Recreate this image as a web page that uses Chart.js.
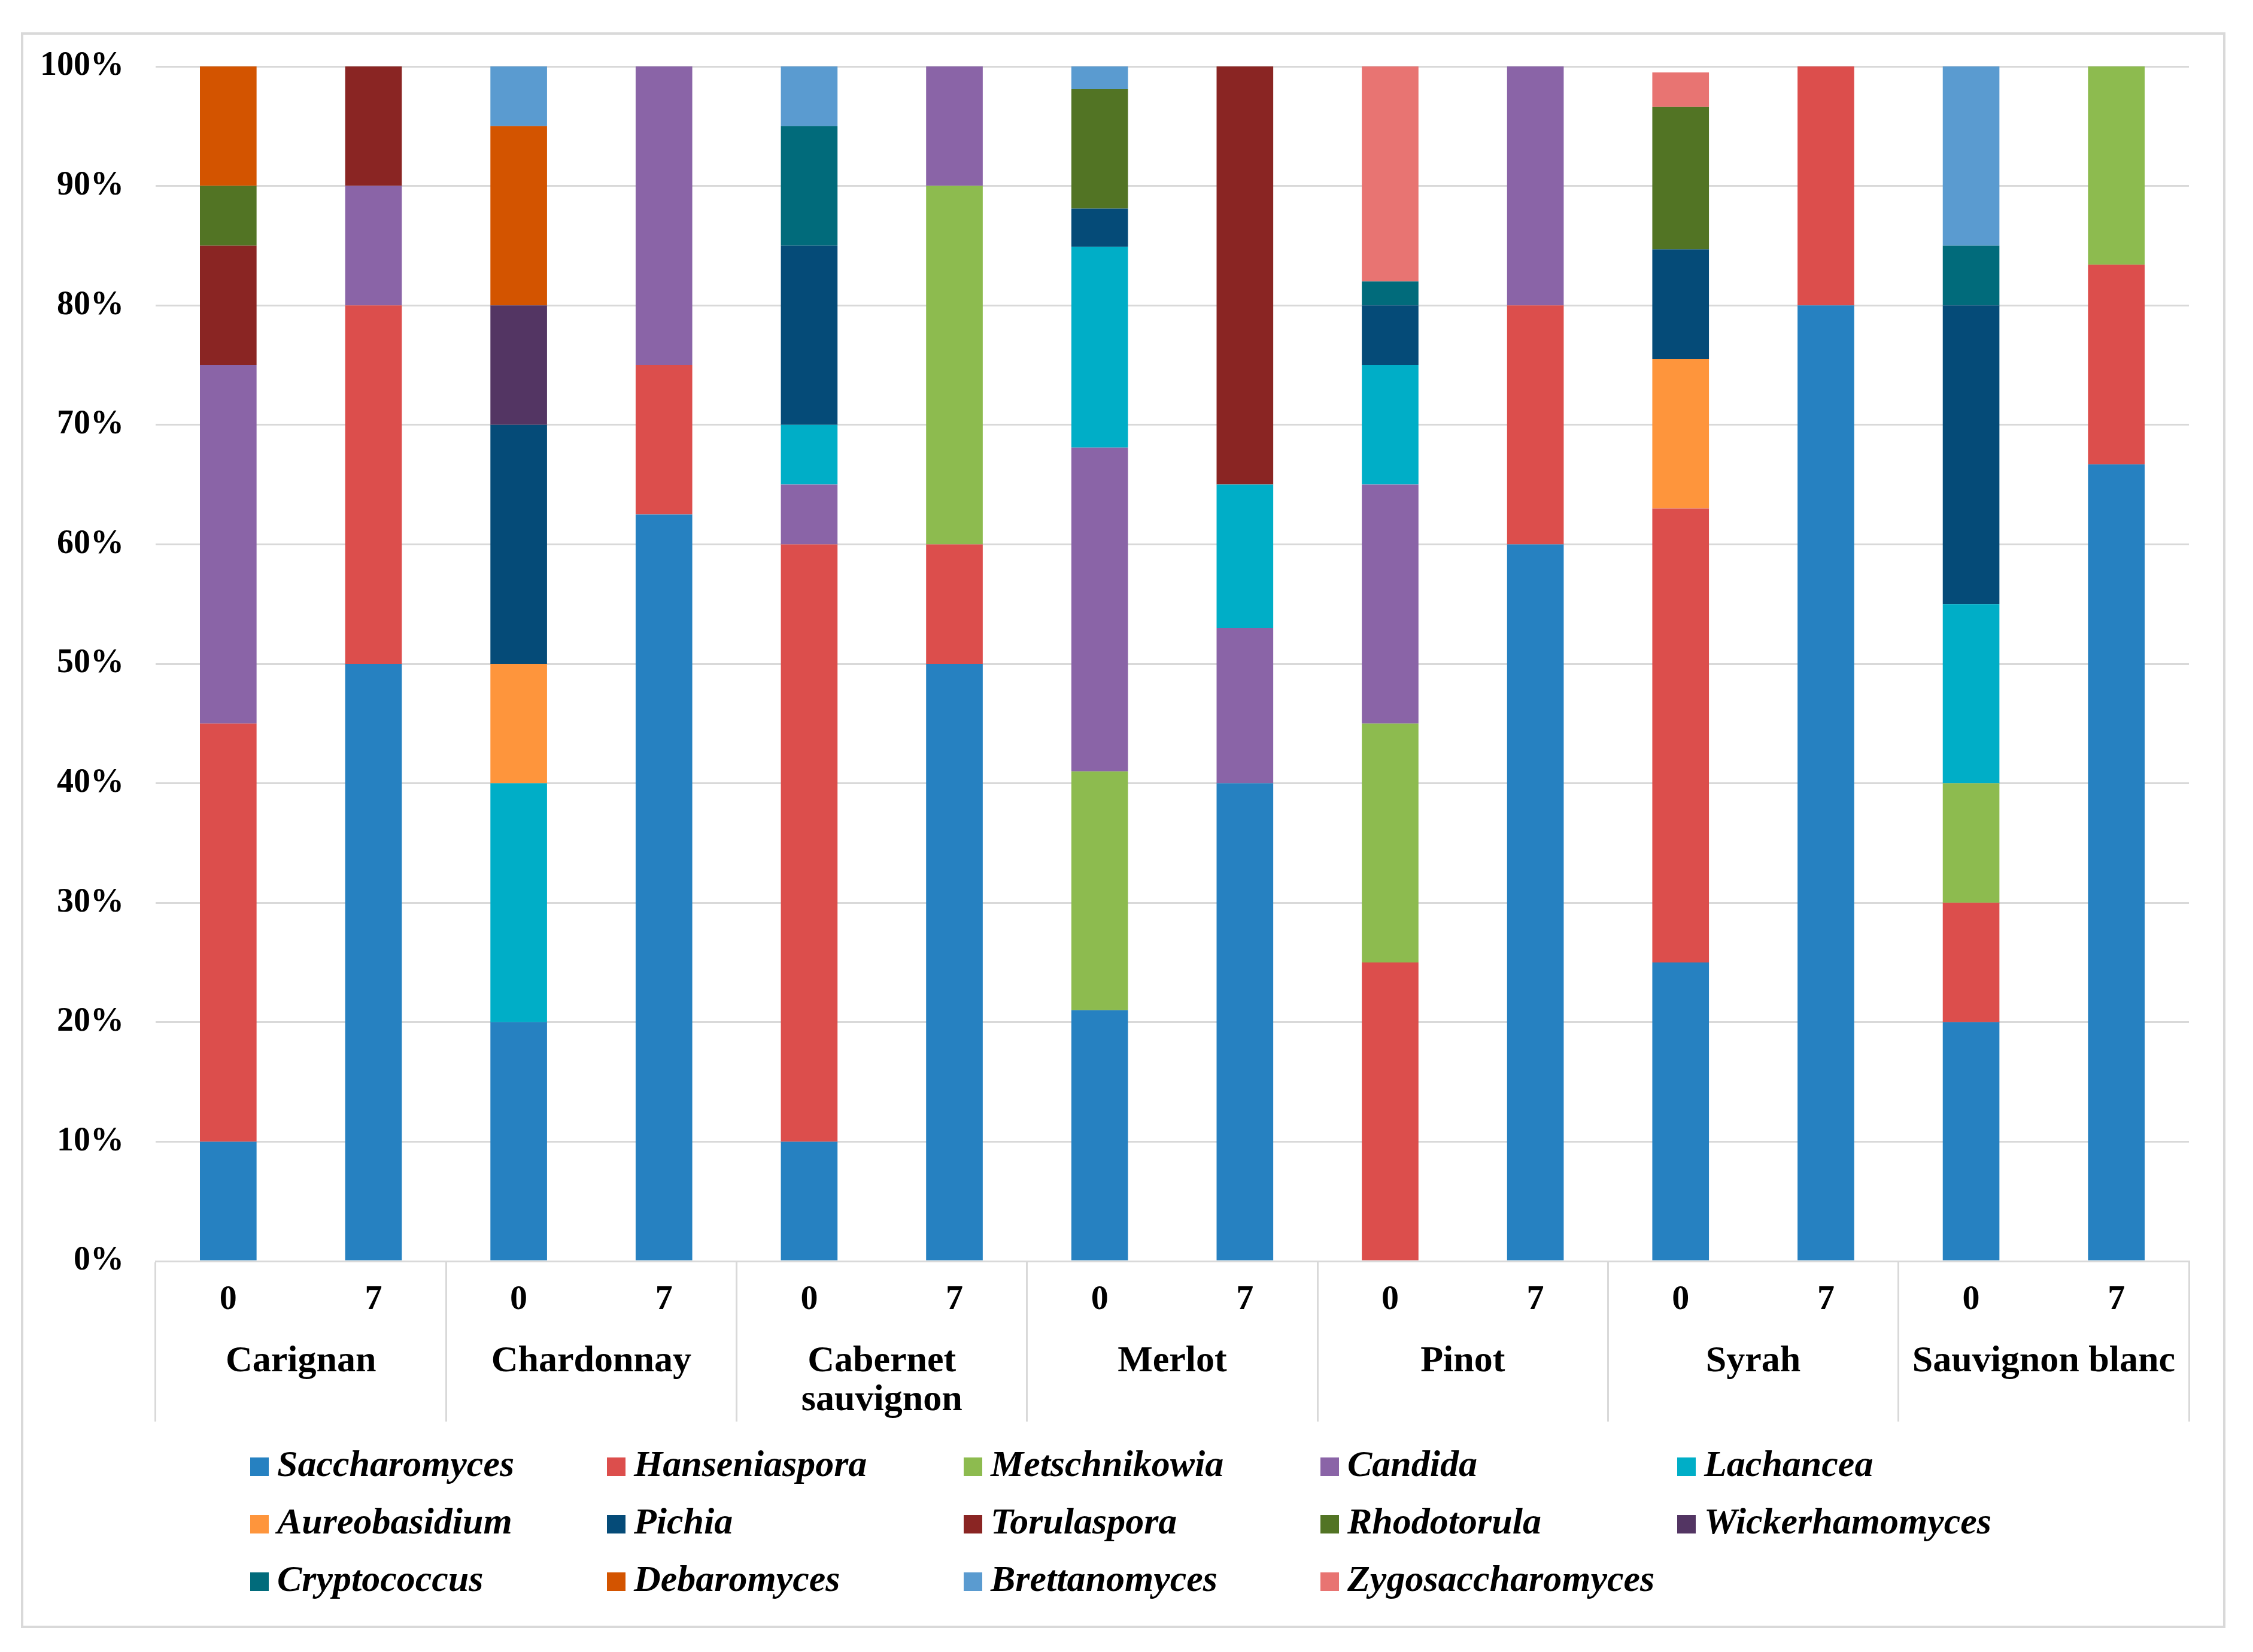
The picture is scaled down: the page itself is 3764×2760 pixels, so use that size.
<!DOCTYPE html>
<html>
<head>
<meta charset="utf-8">
<script src="https://cdn.jsdelivr.net/npm/chart.js@4.4.1/dist/chart.umd.min.js"></script>
<style>
  html, body { margin: 0; padding: 0; background: #fff; }
  body { width: 3764px; height: 2760px; position: relative; overflow: hidden; }
  #frame { position: absolute; left: 35px; top: 54px; width: 3675px; height: 2658px; border: 4px solid #d9d9d9; }
  #wrap { position: absolute; left: 0; top: 0; width: 3764px; height: 2400px; }
  #legend { position: absolute; left: 418px; top: 2397px; display: grid; grid-template-columns: repeat(5, 596px);
    font: italic bold 62px "Liberation Serif", serif; line-height: 96px; color: #000; }
  #legend span.box { display: inline-block; width: 31px; height: 31px; margin-right: 14px; }
</style>
</head>
<body>
<div id="frame"></div>
<div id="wrap"><canvas id="myChart"></canvas></div>
<div id="legend"></div>
<script>
const ctx = document.getElementById('myChart')

// two-level categories: day (0 / 7) inside each grape variety
const days = ['0','7','0','7','0','7','0','7','0','7','0','7','0','7']
const varieties = ['Carignan', 'Chardonnay', ['Cabernet', 'sauvignon'], 'Merlot', 'Pinot', 'Syrah', 'Sauvignon blanc']

// % of isolates per genus, columns in the order of "days"
const saccharomyces    = [10, 50, 20, 62.5, 10, 50, 21, 40, 0, 60, 25, 80, 20, 66.7]
const hanseniaspora    = [35, 30, 0, 12.5, 50, 10, 0, 0, 25, 20, 38, 20, 10, 16.7]
const metschnikowia    = [0, 0, 0, 0, 0, 30, 20, 0, 20, 0, 0, 0, 10, 16.6]
const candida          = [30, 10, 0, 25, 5, 10, 27.1, 13, 20, 20, 0, 0, 0, 0]
const lachancea        = [0, 0, 20, 0, 5, 0, 16.8, 12, 10, 0, 0, 0, 15, 0]
const aureobasidium    = [0, 0, 10, 0, 0, 0, 0, 0, 0, 0, 12.5, 0, 0, 0]
const pichia           = [0, 0, 20, 0, 15, 0, 3.2, 0, 5, 0, 9.2, 0, 25, 0]
const torulaspora      = [10, 10, 0, 0, 0, 0, 0, 35, 0, 0, 0, 0, 0, 0]
const rhodotorula      = [5, 0, 0, 0, 0, 0, 10, 0, 0, 0, 11.9, 0, 0, 0]
const wickerhamomyces  = [0, 0, 10, 0, 0, 0, 0, 0, 0, 0, 0, 0, 0, 0]
const cryptococcus     = [0, 0, 0, 0, 10, 0, 0, 0, 2, 0, 0, 0, 5, 0]
const debaromyces      = [10, 0, 15, 0, 0, 0, 0, 0, 0, 0, 0, 0, 0, 0]
const brettanomyces    = [0, 0, 5, 0, 5, 0, 1.9, 0, 0, 0, 0, 0, 15, 0]
const zygosaccharomyces = [0, 0, 0, 0, 0, 0, 0, 0, 18, 0, 2.9, 0, 0, 0]

const yTicks = [0, 10, 20, 30, 40, 50, 60, 70, 80, 90, 100]

const series = [
  ['Saccharomyces', saccharomyces, '#2681C1'],
  ['Hanseniaspora', hanseniaspora, '#DC4E4C'],
  ['Metschnikowia', metschnikowia, '#8DBB4F'],
  ['Candida', candida, '#8A64A7'],
  ['Lachancea', lachancea, '#00AEC7'],
  ['Aureobasidium', aureobasidium, '#FE953C'],
  ['Pichia', pichia, '#054B78'],
  ['Torulaspora', torulaspora, '#8A2523'],
  ['Rhodotorula', rhodotorula, '#527424'],
  ['Wickerhamomyces', wickerhamomyces, '#533563'],
  ['Cryptococcus', cryptococcus, '#016B7B'],
  ['Debaromyces', debaromyces, '#D35400'],
  ['Brettanomyces', brettanomyces, '#5A9BD0'],
  ['Zygosaccharomyces', zygosaccharomyces, '#E87472']
]

const datasets = series.map(s => ({
  label: s[0],
  data: s[1],
  backgroundColor: s[2],
  borderWidth: 0,
  barPercentage: 0.39,
  categoryPercentage: 1
}))

const grid = '#d9d9d9'
const serif = '"Liberation Serif", serif'

const config = {
  type: 'bar',
  data: { labels: days, datasets: datasets },
  options: {
    responsive: true,
    maintainAspectRatio: false,
    devicePixelRatio: 1,
    animation: false,
    layout: { padding: { left: 0, top: 111, right: 107, bottom: 0 } },
    plugins: { legend: { display: false }, tooltip: { enabled: false } },
    scales: {
      y: {
        stacked: true,
        min: 0,
        max: 100,
        afterBuildTicks: scale => { scale.ticks = yTicks.map(v => ({ value: v })) },
        afterFit: scale => { scale.width = 260 },
        border: { display: false },
        grid: { color: grid, lineWidth: 3, drawTicks: false },
        ticks: { padding: 53, color: '#000', font: { family: serif, weight: 'bold', size: 56 },
          callback: v => v + '%' }
      },
      x: {
        stacked: true,
        weight: 1,
        afterFit: scale => { scale.height = 118 },
        border: { display: true, color: grid, width: 3 },
        grid: {
          drawOnChartArea: false,
          drawTicks: true,
          tickLength: 268,
          lineWidth: 3,
          color: c => (c.type === 'scale' || c.index % 2 === 0) ? grid : 'rgba(0,0,0,0)'
        },
        ticks: { padding: -238, maxRotation: 0, autoSkip: false, color: '#000',
          font: { family: serif, weight: 'bold', size: 58 } }
      },
      x2: {
        type: 'category',
        position: 'bottom',
        weight: 2,
        labels: varieties,
        offset: true,
        afterFit: scale => { scale.height = 175 },
        border: { display: false },
        grid: { display: false, drawTicks: false },
        ticks: { padding: 17, maxRotation: 0, autoSkip: false, color: '#000',
          font: { family: serif, weight: 'bold', size: 62, lineHeight: 1.05 } }
      }
    }
  }
}

const myChart = new Chart(ctx, config)

// legend in fixed columns, built from the same series
const legend = document.getElementById('legend')
series.forEach(s => {
  const item = document.createElement('div')
  const box = document.createElement('span')
  box.className = 'box'
  box.style.background = s[2]
  item.appendChild(box)
  item.appendChild(document.createTextNode(s[0]))
  legend.appendChild(item)
})
</script>
</body>
</html>
